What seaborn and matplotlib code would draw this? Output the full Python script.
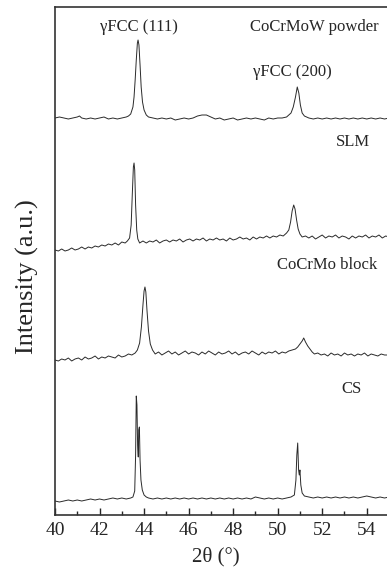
import matplotlib
matplotlib.use("Agg")
import matplotlib.pyplot as plt
from matplotlib.ticker import MultipleLocator
import seaborn as sns
import pandas as pd

# XRD patterns, intensity in arbitrary units (traces already offset)
powder_2theta = [40.0, 40.2, 40.4, 40.6, 40.8, 41.0, 41.1, 41.2, 41.4, 41.6, 41.8, 42.0, 42.2, 42.4,
                 42.6, 42.8, 43.0, 43.2, 43.3, 43.4, 43.5, 43.55, 43.6, 43.65, 43.7, 43.73, 43.77,
                 43.82, 43.87, 43.93, 44.0, 44.1, 44.2, 44.4, 44.6, 44.8, 45.0, 45.2, 45.4, 45.6,
                 45.8, 46.0, 46.2, 46.4, 46.6, 46.8, 47.0, 47.2, 47.4, 47.6, 47.8, 48.0, 48.2, 48.4,
                 48.6, 48.8, 49.0, 49.2, 49.4, 49.6, 49.8, 50.0, 50.2, 50.4, 50.5, 50.6, 50.7, 50.8,
                 50.88, 50.95, 51.02, 51.1, 51.2, 51.4, 51.6, 51.8, 52.0, 52.2, 52.4, 52.6, 52.8,
                 53.0, 53.2, 53.4, 53.6, 53.8, 54.0, 54.2, 54.4, 54.6, 54.8, 55.0]
powder_int = [397, 398, 397, 396, 397, 398, 399, 397, 396, 397, 396, 397, 398, 396,
              397, 396, 397, 398, 399, 401, 408, 418, 435, 455, 472, 475, 470,
              450, 428, 413, 405, 400, 398, 397, 396, 397, 396, 397, 395, 396,
              397, 396, 397, 399, 400, 400, 398, 396, 397, 395, 396, 397, 395, 396,
              397, 396, 397, 396, 395, 397, 396, 397, 397, 398, 400, 402, 408, 418,
              428, 422, 410, 402, 399, 397, 396, 397, 396, 397, 396, 397, 396,
              397, 396, 397, 396, 397, 396, 397, 396, 397, 396, 397]

slm_2theta = [40.0, 40.15, 40.3, 40.45, 40.6, 40.75, 40.9, 41.05, 41.2, 41.35, 41.5, 41.65, 41.8,
              41.95, 42.1, 42.25, 42.4, 42.55, 42.7, 42.85, 43.0, 43.15, 43.25, 43.35, 43.42,
              43.47, 43.52, 43.55, 43.58, 43.62, 43.67, 43.72, 43.8, 43.95, 44.1, 44.25, 44.4,
              44.55, 44.7, 44.85, 45.0, 45.15, 45.3, 45.45, 45.6, 45.75, 45.9, 46.05, 46.2, 46.35,
              46.5, 46.65, 46.8, 46.95, 47.1, 47.25, 47.4, 47.55, 47.7, 47.85, 48.0, 48.15, 48.3,
              48.45, 48.6, 48.75, 48.9, 49.05, 49.2, 49.35, 49.5, 49.65, 49.8, 49.95, 50.1, 50.25,
              50.4, 50.5, 50.58, 50.65, 50.72, 50.78, 50.85, 50.92, 51.0, 51.1, 51.25, 51.4, 51.55,
              51.7, 51.85, 52.0, 52.15, 52.3, 52.45, 52.6, 52.75, 52.9, 53.05, 53.2, 53.35, 53.5,
              53.65, 53.8, 53.95, 54.1, 54.25, 54.4, 54.55, 54.7, 54.85, 55.0]
slm_int = [265, 264, 266, 264, 265, 267, 265, 266, 268, 266, 268, 267, 269, 268, 270, 269, 271,
           270, 272, 270, 273, 272, 274, 277, 290, 320, 348, 352, 345, 310, 285, 276, 272, 274,
           272, 274, 273, 275, 272, 274, 275, 273, 275, 274, 276, 273, 275, 276, 274, 276, 275,
           277, 274, 276, 275, 277, 275, 276, 274, 277, 275, 276, 278, 276, 277, 275, 278, 276,
           278, 277, 279, 277, 279, 278, 280, 279, 282, 285, 293, 304, 310, 306, 295, 286, 281,
           278, 279, 277, 279, 276, 278, 280, 277, 279, 278, 280, 277, 279, 278, 276, 279, 277,
           279, 278, 280, 277, 279, 278, 280, 277, 279, 278]

block_2theta = [40.0, 40.15, 40.3, 40.45, 40.6, 40.75, 40.9, 41.05, 41.2, 41.35, 41.5, 41.65, 41.8,
                41.95, 42.1, 42.25, 42.4, 42.55, 42.7, 42.85, 43.0, 43.15, 43.3, 43.45, 43.6, 43.7,
                43.8, 43.88, 43.95, 44.0, 44.04, 44.08, 44.13, 44.2, 44.28, 44.38, 44.5, 44.65,
                44.8, 44.95, 45.1, 45.25, 45.4, 45.55, 45.7, 45.85, 46.0, 46.15, 46.3, 46.45, 46.6,
                46.75, 46.9, 47.05, 47.2, 47.35, 47.5, 47.65, 47.8, 47.95, 48.1, 48.25, 48.4, 48.55,
                48.7, 48.85, 49.0, 49.15, 49.3, 49.45, 49.6, 49.75, 49.9, 50.05, 50.2, 50.35, 50.5,
                50.65, 50.8, 50.9, 51.0, 51.1, 51.17, 51.25, 51.35, 51.45, 51.55, 51.65, 51.8,
                51.95, 52.1, 52.25, 52.4, 52.55, 52.7, 52.85, 53.0, 53.15, 53.3, 53.45, 53.6,
                53.75, 53.9, 54.05, 54.2, 54.35, 54.5, 54.65, 54.8, 55.0]
block_int = [155, 154, 156, 155, 157, 154, 156, 157, 155, 158, 156, 157, 159, 156, 158, 157, 159,
             158, 157, 160, 158, 159, 161, 160, 162, 165, 172, 188, 210, 224, 228, 223, 205,
             184, 171, 165, 161, 163, 160, 162, 164, 161, 163, 160, 162, 164, 161, 163, 162,
             160, 163, 161, 164, 162, 160, 163, 161, 162, 164, 161, 163, 160, 162, 163, 161,
             164, 162, 160, 163, 161, 163, 162, 164, 161, 163, 162, 164, 165, 166, 168, 171,
             174, 177, 173, 169, 166, 163, 161, 162, 160, 161, 159, 162, 160, 161, 159, 162,
             160, 161, 159, 161, 160, 162, 159, 161, 160, 159, 161, 160, 160]

cs_2theta = [40.0, 40.2, 40.4, 40.6, 40.8, 41.0, 41.2, 41.4, 41.6, 41.8, 42.0, 42.2, 42.4, 42.6,
             42.8, 43.0, 43.2, 43.4, 43.5, 43.58, 43.62, 43.65, 43.68, 43.71, 43.74, 43.76,
             43.79, 43.82, 43.86, 43.92, 44.0, 44.1, 44.2, 44.4, 44.6, 44.8, 45.0, 45.2, 45.4,
             45.6, 45.8, 46.0, 46.2, 46.4, 46.6, 46.8, 47.0, 47.2, 47.4, 47.6, 47.8, 48.0, 48.2,
             48.4, 48.6, 48.8, 49.0, 49.2, 49.4, 49.6, 49.8, 50.0, 50.2, 50.4, 50.6, 50.75,
             50.82, 50.86, 50.9, 50.94, 50.97, 51.0, 51.04, 51.1, 51.2, 51.4, 51.6, 51.8, 52.0,
             52.2, 52.4, 52.6, 52.8, 53.0, 53.2, 53.4, 53.6, 53.8, 54.0, 54.2, 54.4, 54.6, 54.8,
             55.0]
cs_int = [14, 13, 14, 15, 14, 15, 14, 15, 16, 15, 16, 15, 16, 17, 16, 17, 16, 17, 18, 24, 60,
          119, 110, 70, 58, 85, 88, 55, 35, 25, 20, 18, 17, 16, 17, 16, 17, 16, 17, 16, 17, 16,
          17, 16, 17, 16, 17, 16, 17, 16, 17, 16, 17, 16, 17, 16, 18, 17, 16, 17, 16, 17, 16,
          17, 18, 20, 35, 60, 72, 45, 40, 45, 30, 22, 19, 18, 17, 18, 17, 18, 17, 18, 17, 18,
          17, 18, 17, 18, 19, 18, 17, 18, 17, 18]

sample_labels = ["CoCrMoW powder", "SLM", "CoCrMo block", "CS"]
label_2theta = [51.66, 53.37, 52.2, 53.32]
label_int = [488, 373, 250, 126]
peak_labels = ["\u03b3FCC (111)", "\u03b3FCC (200)"]
peak_label_2theta = [43.77, 50.68]
peak_label_int = [488, 443]

sns.set_style("ticks")
plt.rcParams['font.family'] = ['Liberation Serif', 'DejaVu Serif']

frames = []
for name, tt, ii in [("powder", powder_2theta, powder_int), ("SLM", slm_2theta, slm_int),
                     ("block", block_2theta, block_int), ("CS", cs_2theta, cs_int)]:
    frames.append(pd.DataFrame({'two_theta': tt, 'intensity': ii, 'sample': name}))
df = pd.concat(frames, ignore_index=True)

fig = plt.figure(figsize=(3.87, 5.71), dpi=100)
ax = fig.add_axes([55 / 387, 56 / 571, 334 / 387, 508 / 571])

sns.lineplot(data=df, x='two_theta', y='intensity', units='sample', estimator=None,
             color='#2a2a2a', linewidth=0.7, sort=False, ax=ax)

ax.set_xlim(40, 55)
ax.set_ylim(0, 508)
ax.xaxis.set_major_locator(MultipleLocator(2))
ax.xaxis.set_minor_locator(MultipleLocator(1))
ax.tick_params(axis='x', which='major', direction='in', length=5, width=1.0, labelsize=14, pad=5)
ax.tick_params(axis='x', which='minor', direction='in', length=3, width=1.0)
ax.tick_params(axis='y', left=False, labelleft=False)
ax.set_xlabel('')
ax.set_ylabel('')
for s in ax.spines.values():
    s.set_linewidth(1.2)
    s.set_color('#333333')

for txt, x, y in zip(sample_labels, label_2theta, label_int):
    ax.text(x, y, txt, ha='center', va='center', fontsize=12)
for txt, x, y in zip(peak_labels, peak_label_2theta, peak_label_int):
    ax.text(x, y, txt, ha='center', va='center', fontsize=12)

fig.text(27 / 387, 1 - 277 / 571, 'Intensity (a.u.)', rotation=90, ha='center', va='center',
         fontsize=19)
fig.text(216 / 387, 1 - 557 / 571, '2\u03b8 (\u00b0)', ha='center', va='center', fontsize=15)

fig.savefig('out.png', dpi=100)
